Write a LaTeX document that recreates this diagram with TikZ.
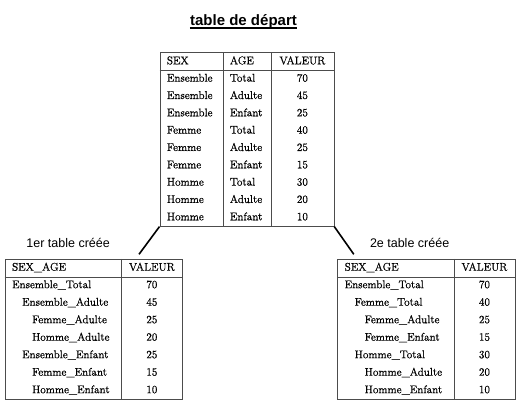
\documentclass[tikz,border=0pt]{standalone}
\usepackage{fontspec}
\newfontfamily\arial{Liberation Sans}
\newfontfamily\cmgras{Latin Modern Roman}[FakeBold=0.8]
\usetikzlibrary{matrix,positioning}
\newcommand{\niv}{\hspace*{10pt}}

\begin{document}
\begin{tikzpicture}[x=1pt, y=1pt,
font=\cmgras\fontsize{11.2}{13}\selectfont,
tabdep/.style={
    matrix of nodes,
    draw=black!70, line width=0.8pt, inner sep=0pt,
    column sep=0pt,
    row sep=0pt,
    nodes={draw=none, inner sep=0pt, minimum height=17.33pt, text height=8pt, text depth=2.5pt, anchor=center},
    column 1/.style={nodes={text width=63pt, align=left, execute at begin node={\hspace*{7pt}}}},
    column 2/.style={nodes={text width=48pt, align=left, execute at begin node={\hspace*{7pt}}}},
    column 3/.style={nodes={text width=63pt, align=center}},
},
tabres/.style={
    matrix of nodes,
    draw=black!70, line width=0.8pt, inner sep=0pt,
    column sep=0pt,
    row sep=0pt,
    nodes={draw=none, inner sep=0pt, minimum height=17.5pt, text height=8pt, text depth=2.5pt, anchor=center},
    column 1/.style={nodes={text width=116pt, align=left, execute at begin node={\hspace*{7pt}}}},
    column 2/.style={nodes={text width=61.5pt, align=center}},
},
trait/.style={draw=black!70, line width=0.8pt},
lien/.style={draw=black, line width=1.6pt},
titre/.style={font=\arial\bfseries\fontsize{15}{18}\selectfont, inner sep=0pt},
soustitre/.style={font=\arial\fontsize{12.5}{15}\selectfont, inner sep=0pt},
]
\useasboundingbox (0,0) rectangle (519,403);

\matrix[tabdep, anchor=north west] (depart) at (159.5,350.5) {
  SEX      & AGE    & VALEUR \\
  Ensemble & Total  & 70 \\
  Ensemble & Adulte & 45 \\
  Ensemble & Enfant & 25 \\
  Femme    & Total  & 40 \\
  Femme    & Adulte & 25 \\
  Femme    & Enfant & 15 \\
  Homme    & Total  & 30 \\
  Homme    & Adulte & 20 \\
  Homme    & Enfant & 10 \\
};
\draw[trait] (depart-1-1.south west) -- (depart-1-3.south east);
\draw[trait] (depart-1-1.north east) -- (depart-10-1.south east);
\draw[trait] (depart-1-2.north east) -- (depart-10-2.south east);

\node[titre, anchor=base] (titre) at (243.5,377) {table de départ};
\draw[line width=1.8pt] ([yshift=-2.3pt]titre.base west) -- ([yshift=-2.3pt]titre.base east);

\matrix[tabres, below left=32.2pt and -23.5pt of depart.south west] (creee1) {
  SEX\_AGE                  & VALEUR \\
  Ensemble\_Total           & 70 \\
  \niv Ensemble\_Adulte     & 45 \\
  \niv\niv Femme\_Adulte    & 25 \\
  \niv\niv Homme\_Adulte    & 20 \\
  \niv Ensemble\_Enfant     & 25 \\
  \niv\niv Femme\_Enfant    & 15 \\
  \niv\niv Homme\_Enfant    & 10 \\
};
\draw[trait] (creee1-1-1.south west) -- (creee1-1-2.south east);
\draw[trait] (creee1-1-1.north east) -- (creee1-8-1.south east);

\matrix[tabres, below right=32.2pt and 3pt of depart.south east] (creee2) {
  SEX\_AGE                  & VALEUR \\
  Ensemble\_Total           & 70 \\
  \niv Femme\_Total         & 40 \\
  \niv\niv Femme\_Adulte    & 25 \\
  \niv\niv Femme\_Enfant    & 15 \\
  \niv Homme\_Total         & 30 \\
  \niv\niv Homme\_Adulte    & 20 \\
  \niv\niv Homme\_Enfant    & 10 \\
};
\draw[trait] (creee2-1-1.south west) -- (creee2-1-2.south east);
\draw[trait] (creee2-1-1.north east) -- (creee2-8-1.south east);

\node[soustitre, anchor=base west] (lab1) at ([xshift=21.5pt, yshift=11.5pt]creee1.north west) {1er table créée};
\node[soustitre, anchor=base west] (lab2) at ([xshift=32.5pt, yshift=11.5pt]creee2.north west) {2e table créée};

\coordinate (fin1) at ([xshift=-44pt, yshift=4.5pt]creee1.north east);
\coordinate (fin2) at ([xshift=16.5pt, yshift=4.5pt]creee2.north west);
\draw[lien] (depart.south west) -- (fin1);
\draw[lien] (depart.south east) -- (fin2);

\end{tikzpicture}
\end{document}
